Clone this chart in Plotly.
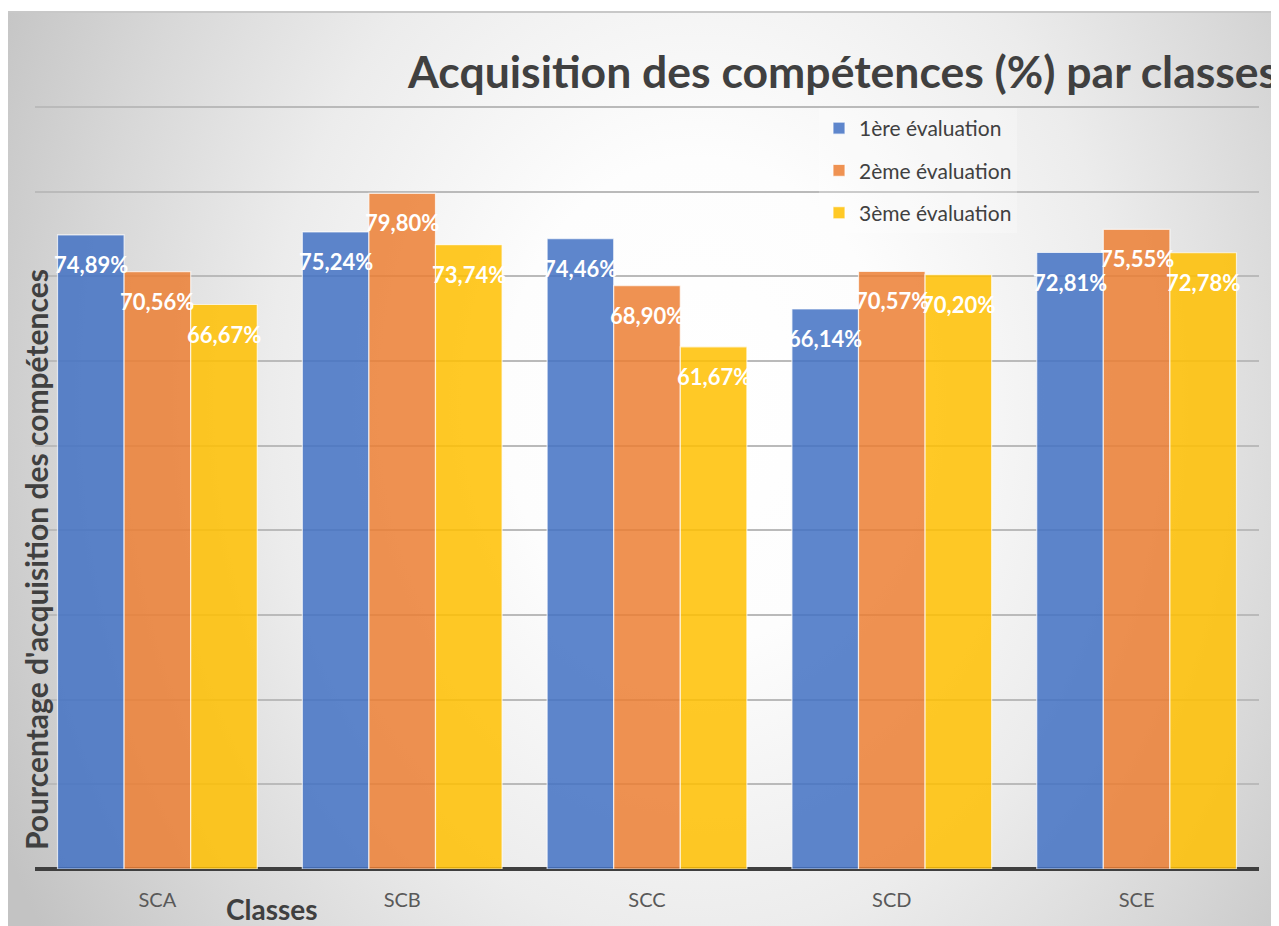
import base64
import plotly.graph_objects as go

categories = ["SCA", "SCB", "SCC", "SCD", "SCE"]
series_names = ["1ère évaluation", "2ème évaluation", "3ème évaluation"]
eval1 = [74.89, 75.24, 74.46, 66.14, 72.81]
eval2 = [70.56, 79.80, 68.90, 70.57, 75.55]
eval3 = [66.67, 73.74, 61.67, 70.20, 72.78]
series_values = [eval1, eval2, eval3]
colors = ["rgba(68,114,196,0.86)", "rgba(236,125,49,0.84)", "rgba(255,192,0,0.85)"]
title_text = "Acquisition des compétences (%) par classes"
y_title = "Pourcentage d'acquisition des compétences"
x_title = "Classes"

W, H = 1279, 926
OFF = 8  # page body margin
FONT = "Lato"
BARGAP = 0.184

def px_x(p):
    return (p - OFF) / W

def px_y(p):
    return 1 - (p - OFF) / H

BW, BH = W, H - 4
svg = f'''<svg xmlns="http://www.w3.org/2000/svg" width="{BW}" height="{BH}" viewBox="0 0 {BW} {BH}" preserveAspectRatio="none">
<defs><radialGradient id="g" gradientUnits="userSpaceOnUse" cx="690" cy="390" r="780"
 gradientTransform="translate(690 390) scale(1 1.25) translate(-690 -390)">
<stop offset="0" stop-color="#ffffff"/><stop offset="0.25" stop-color="#fdfdfd"/>
<stop offset="0.55" stop-color="#ececec"/><stop offset="0.78" stop-color="#d8d8d8"/>
<stop offset="1" stop-color="#c3c3c3"/></radialGradient></defs>
<rect x="0" y="0" width="{BW}" height="{BH}" fill="url(#g)"/></svg>'''
bg_src = "data:image/svg+xml;base64," + base64.b64encode(svg.encode()).decode()

fig = go.Figure()
for name, vals, col in zip(series_names, series_values, colors):
    fig.add_trace(go.Bar(
        x=categories, y=vals, name=name,
        marker=dict(color=col, line=dict(color="rgba(255,255,255,0.7)", width=1.2)),
        legendgroup=name, hoverinfo="x+y+name",
    ))

annotations = []
w = (1 - BARGAP) / 3
for k, vals in enumerate(series_values):
    for i, v in enumerate(vals):
        annotations.append(dict(
            x=i + (k - 1) * w, y=v, xref="x", yref="y",
            text=f"{v:.2f}%".replace(".", ","), showarrow=False,
            yanchor="top", yshift=-14,
            font=dict(family=FONT, size=22, color="white", weight="bold"),
        ))

annotations.append(dict(
    x=px_x(405), y=px_y(70), xref="paper", yref="paper", xanchor="left", yanchor="middle",
    text=title_text, showarrow=False,
    font=dict(family=FONT, size=44.5, color="#404040", weight="bold"),
))
annotations.append(dict(
    x=px_x(36), y=px_y(560), xref="paper", yref="paper", xanchor="center", yanchor="middle",
    text=y_title, showarrow=False, textangle=-90,
    font=dict(family=FONT, size=30, color="#404040", weight="bold"),
))
annotations.append(dict(
    x=px_x(272), y=px_y(909), xref="paper", yref="paper", xanchor="center", yanchor="middle",
    text=x_title, showarrow=False,
    font=dict(family=FONT, size=28, color="#404040", weight="bold"),
))

fig.update_layout(
    width=W, height=H,
    margin=dict(l=0, r=0, t=0, b=0),
    paper_bgcolor="white", plot_bgcolor="rgba(0,0,0,0)",
    barmode="group", bargap=BARGAP, bargroupgap=0,
    font=dict(family=FONT, color="#595959"),
    images=[dict(source=bg_src, xref="paper", yref="paper",
                 x=0, y=px_y(12), sizex=1, sizey=px_y(12),
                 xanchor="left", yanchor="top", sizing="stretch", layer="below")],
    shapes=[
        dict(type="line", xref="paper", yref="paper", x0=0, x1=1, y0=px_y(12), y1=px_y(12),
             line=dict(color="#c8c8c8", width=2)),
    ],
    xaxis=dict(domain=[px_x(35), px_x(1259)], showgrid=False, showline=False,
               ticks="", tickfont=dict(family=FONT, size=20, color="#595959"),
               ticklabelstandoff=17),
    yaxis=dict(domain=[px_y(869), px_y(98.5)], range=[0, 91], dtick=10, tick0=0,
               showticklabels=False, showgrid=True, gridcolor="#bababa", gridwidth=1.5,
               zeroline=True, zerolinecolor="#3f3f3f", zerolinewidth=3.5, showline=False),
    legend=dict(x=px_x(819), y=px_y(108), xanchor="left", yanchor="top",
                bgcolor="rgba(255,255,255,0.25)", borderwidth=0,
                font=dict(family=FONT, size=21, color="#404040"),
                traceorder="grouped", tracegroupgap=12, itemwidth=30),
    annotations=annotations,
)

fig.write_html("out.html")
